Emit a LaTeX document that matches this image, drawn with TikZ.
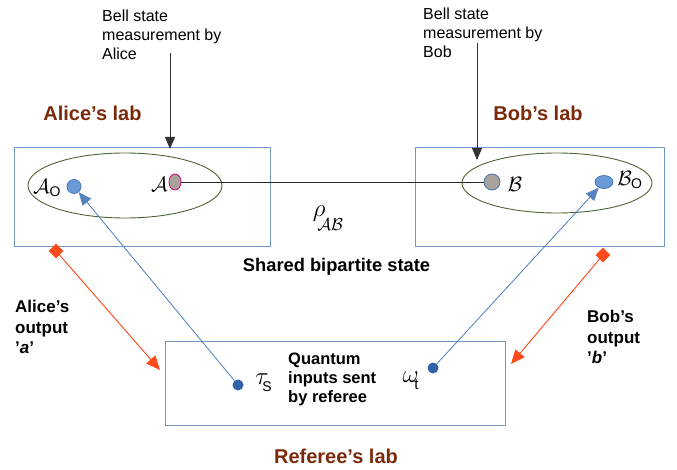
\documentclass[tikz,border=0pt]{standalone}
\usepackage{fontspec}
\setmainfont{Liberation Sans}
\usetikzlibrary{arrows.meta,shapes.geometric}
\definecolor{boxblue}{HTML}{7096C8}
\definecolor{ellgreen}{HTML}{4E6234}
\definecolor{dotblue}{HTML}{6A9AD6}
\definecolor{dotedge}{HTML}{4372B4}
\definecolor{refdot}{HTML}{2F62A6}
\definecolor{labred}{HTML}{7A2A0A}
\definecolor{outred}{HTML}{FF4A1C}
\definecolor{stategray}{HTML}{A8A398}
\definecolor{linkblue}{HTML}{5682BE}
\tikzset{
  labbox/.style={draw=boxblue, line width=0.9pt, inner sep=0pt},
  party/.style={draw=ellgreen, line width=0.9pt, ellipse},
  labname/.style={font=\bfseries\fontsize{20}{22}\selectfont, text=labred},
  note/.style={font=\fontsize{16}{19}\selectfont, align=left, anchor=north west, inner sep=0pt},
  bnote/.style={font=\bfseries\fontsize{16.5}{19}\selectfont, align=left, anchor=north west, inner sep=0pt},
  sym/.style={font=\fontsize{20}{20}\selectfont, inner sep=0pt},
  meas/.style={-{Triangle[length=12pt,width=10pt]}, line width=0.9pt, black!80},
  qlink/.style={-{Triangle[length=13pt,width=11pt]}, draw=linkblue, fill=linkblue, line width=0.8pt},
  outlink/.style={-{Triangle[length=14pt,width=12pt]}, draw=outred, fill=outred, line width=0.9pt},
  outend/.style={diamond, fill=outred, minimum size=15pt, inner sep=0pt},
}
\begin{document}
\begin{tikzpicture}[x=1pt,y=-1pt]
\useasboundingbox (0,0) rectangle (677,470);
% labs
\node[labbox, minimum width=256pt, minimum height=99pt] (alab) at (142,196.5) {};
\node[labbox, minimum width=249pt, minimum height=99pt] (blab) at (539.5,196.5) {};
\node[labbox, minimum width=340pt, minimum height=84pt] (rlab) at (335,383) {};
% lab names
\node[labname] (aname) at (92.5,113) {Alice's lab};
\node[labname] (bname) at (538,113) {Bob's lab};
\node[labname] (rname) at (336,456) {Referee's lab};
% subsystem ellipses
\node[party, minimum width=194pt, minimum height=65pt] (aell) at (125,185.5) {};
\node[party, minimum width=190pt, minimum height=60pt] (bell) at (557,183) {};
% Alice's subsystems
\node[ellipse, draw=dotedge, fill=dotblue, minimum width=14pt, minimum height=14pt, inner sep=0pt, line width=0.7pt] (a0) at (74,186.5) {};
\node[ellipse, draw=purple!70!magenta, fill=stategray, minimum width=12pt, minimum height=16pt, inner sep=0pt, line width=0.8pt] (a) at (175,182) {};
\node[sym] (a0l) at (47,188) {$\mathcal{A}_{\mathrm{O}}$};
\node[sym] (al) at (159.5,184) {$\mathcal{A}$};
% Bob's subsystems
\node[circle, draw=dotedge, fill=stategray, minimum size=16pt, inner sep=0pt, line width=0.8pt] (b) at (492,182) {};
\node[ellipse, draw=dotedge, fill=dotblue, minimum width=18pt, minimum height=13pt, inner sep=0pt, line width=0.7pt] (b0) at (604,182) {};
\node[sym] (bl) at (515,184) {$\mathcal{B}$};
\node[sym] (b0l) at (630,180) {$\mathcal{B}_{\mathrm{O}}$};
% shared state
\draw[line width=0.9pt, black!85] (a.east) -- (b.west);
\node[font=\fontsize{34}{34}\selectfont, inner sep=0pt] (rho) at (328,218) {$\rho$\hspace{-8pt}\raisebox{-14pt}{\fontsize{18}{18}\selectfont$\mathcal{AB}$}};
\node[font=\bfseries\fontsize{18.3}{20}\selectfont] (shared) at (336.5,267) {Shared bipartite state};
% measurement notes
\node[note] (anote) at (102,10) {Bell state\\measurement by\\Alice};
\node[note] (bnote) at (423,8) {Bell state\\measurement by\\Bob};
\coordinate (atop) at (170,53);
\coordinate (btop) at (477,43);
\draw[meas] (atop) -- (170,149);
\draw[meas] (btop) -- (477,160);
% referee inputs
\node[circle, fill=refdot, minimum size=11pt, inner sep=0pt] (tau) at (238,385) {};
\node[circle, fill=refdot, minimum size=11pt, inner sep=0pt] (om) at (433,368) {};
\node[font=\fontsize{28}{28}\selectfont, inner sep=0pt] (taul) at (264,383) {$\tau_{\!_{\mathrm{S}}}$};
\node[font=\fontsize{30}{30}\selectfont, inner sep=0pt] (oml) at (411,381) {$\omega_{\!_{\mathrm{t}}}$};
\node[bnote] (qnote) at (288,353) {Quantum\\inputs sent\\by referee};
\draw[qlink] (tau) -- (a0);
\draw[qlink] (om) -- (b0);
% outputs
\node[outend] (aout) at (56,251) {};
\node[outend] (bout) at (603,255) {};
\coordinate (aref) at (160,370);
\coordinate (bref) at (511,364);
\draw[outlink] (aout.center) -- (aref);
\draw[outlink] (bout.center) -- (bref);
\node[bnote, font=\bfseries\fontsize{17}{20.5}\selectfont] (aonote) at (15,300) {Alice's\\output\\'\textit{a}'};
\node[bnote, font=\bfseries\fontsize{17}{20.5}\selectfont] (bonote) at (587,310) {Bob's\\output\\'\textit{b}'};
\end{tikzpicture}
\end{document}
